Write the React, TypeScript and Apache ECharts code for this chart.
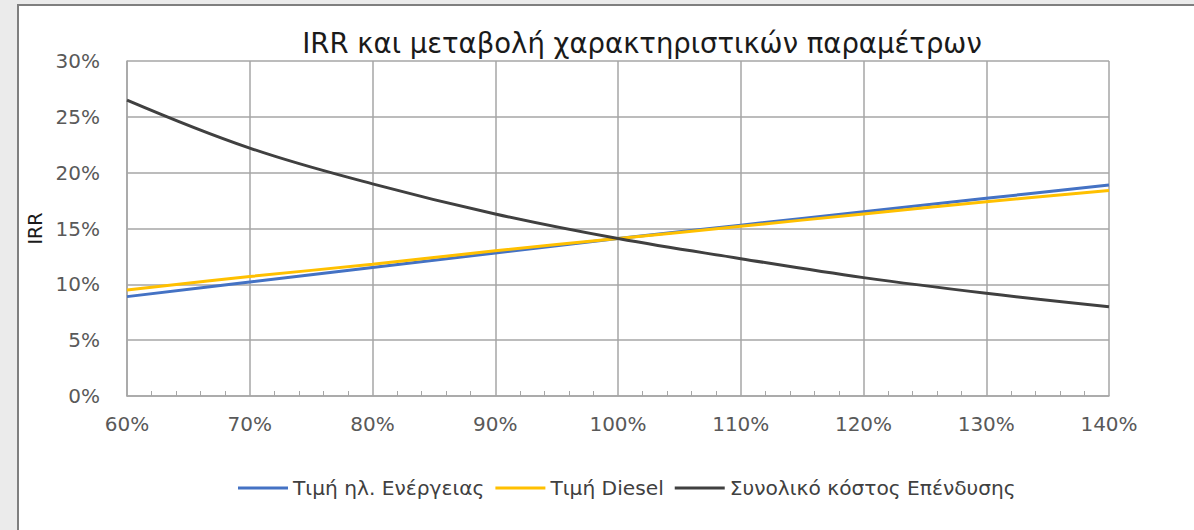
import React, { useEffect, useRef } from "react";
import * as echarts from "echarts";

const xValues = [60, 70, 80, 90, 100, 110, 120, 130, 140];
const energyPrice = [8.9, 10.2, 11.5, 12.8, 14.1, 15.3, 16.5, 17.7, 18.9];
const dieselPrice = [9.5, 10.7, 11.8, 13.0, 14.1, 15.2, 16.3, 17.4, 18.4];
const investmentCost = [26.5, 22.2, 19.0, 16.3, 14.1, 12.3, 10.6, 9.2, 8.0];
const seriesNames = ["Τιμή ηλ. Ενέργειας", "Τιμή Diesel", "Συνολικό κόστος Επένδυσης"];
const seriesColors = ["#4472C4", "#FFC000", "#404040"];

const FONT = "'DejaVu Sans', 'Open Sans', sans-serif";

export default function App() {
  const ref = useRef<HTMLDivElement>(null);
  useEffect(() => {
    if (!ref.current) return;
    const chart = echarts.init(ref.current, undefined, { renderer: "svg" });
    const datasets = [energyPrice, dieselPrice, investmentCost];
    chart.setOption({
      animation: false,
      backgroundColor: "#ebebeb",
      graphic: [
        {
          type: "rect",
          shape: { x: 18, y: 5, width: 1190, height: 540 },
          style: { fill: "#ffffff", stroke: "#7f7f7f", lineWidth: 2 },
          z: -10,
          silent: true,
        },
      ],
      title: {
        text: "IRR και μεταβολή χαρακτηριστικών παραμέτρων",
        left: 637,
        textAlign: "center",
        top: 24,
        textStyle: { fontFamily: FONT, fontSize: 27.5, fontWeight: "normal", color: "#1a1a1a" },
      },
      legend: {
        top: 473,
        left: 233,
        itemWidth: 50,
        itemHeight: 3,
        itemGap: 11,
        icon: "rect",
        textStyle: { fontFamily: FONT, fontSize: 20.2, color: "#404040" },
        data: seriesNames,
      },
      grid: { left: 127, right: 85, top: 61, bottom: 134 },
      xAxis: {
        type: "value",
        min: 60,
        max: 140,
        interval: 10,
        axisLabel: {
          formatter: (v: number) => `${v}%`,
          fontFamily: FONT,
          fontSize: 20,
          color: "#595959",
          margin: 18,
        },
        axisLine: { show: true, lineStyle: { color: "#a6a6a6", width: 1.5 } },
        axisTick: { show: false },
        minorTick: { show: true, splitNumber: 5, length: -5, lineStyle: { color: "#a6a6a6" } },
        splitLine: { show: true, lineStyle: { color: "#a6a6a6", width: 1.5 } },
      },
      yAxis: {
        type: "value",
        min: 0,
        max: 30,
        interval: 5,
        name: "IRR",
        nameLocation: "middle",
        nameGap: 77,
        nameRotate: 90,
        nameTextStyle: { fontFamily: FONT, fontSize: 19, color: "#1a1a1a" },
        axisLabel: {
          formatter: (v: number) => `${v}%`,
          fontFamily: FONT,
          fontSize: 20,
          color: "#595959",
          margin: 27,
        },
        axisLine: { show: true, lineStyle: { color: "#a6a6a6", width: 1.5 } },
        axisTick: { show: false },
        splitLine: { show: true, lineStyle: { color: "#a6a6a6", width: 1.5 } },
      },
      series: datasets.map((d, i) => ({
        name: seriesNames[i],
        type: "line",
        smooth: 0.4,
        showSymbol: false,
        symbol: "none",
        data: xValues.map((x, j) => [x, d[j]]),
        lineStyle: { color: seriesColors[i], width: 3 },
        itemStyle: { color: seriesColors[i] },
      })),
    });
    return () => chart.dispose();
  }, []);
  return (
    <div
      ref={ref}
      style={{ position: "fixed", left: 0, top: 0, width: 1194, height: 530 }}
    />
  );
}
